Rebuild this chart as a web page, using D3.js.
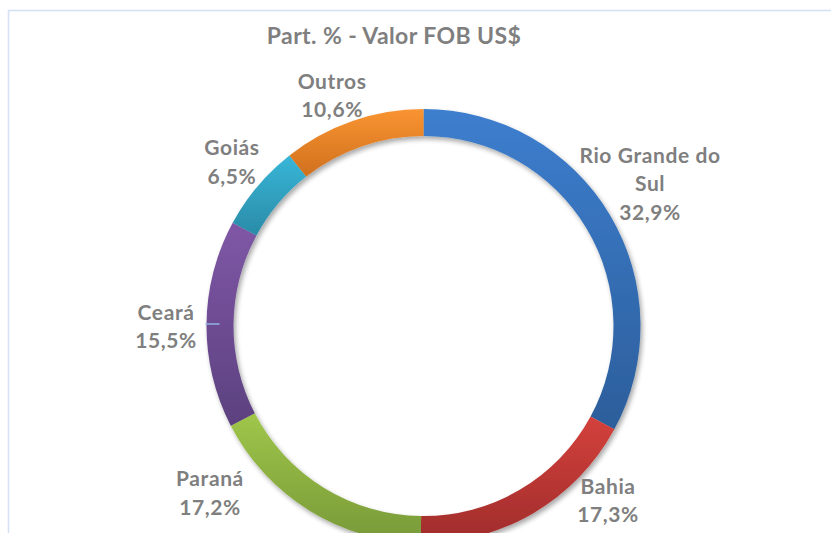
<!DOCTYPE html>
<html>
<head>
<meta charset="utf-8">
<script src="https://cdn.jsdelivr.net/npm/d3@7"></script>
<style>
html,body{margin:0;padding:0;background:#fff;}
svg{display:block;}
</style>
</head>
<body>
<svg id="chart" width="831" height="533"></svg>
<script>
// ---- data ----
const categories = ["Rio Grande do Sul", "Bahia", "Paraná", "Ceará", "Goiás", "Outros"];
const values = [32.9, 17.3, 17.2, 15.5, 6.5, 10.6];
const valueLabels = ["32,9%", "17,3%", "17,2%", "15,5%", "6,5%", "10,6%"];
const labelLines = [["Rio Grande do", "Sul"], ["Bahia"], ["Paraná"], ["Ceará"], ["Goiás"], ["Outros"]];
const title = "Part. % - Valor FOB US$";

// ---- styles / layout ----
const colorsTop = ["#3d7ece", "#d4413c", "#a0c64a", "#7f57a6", "#38b6d8", "#f99431"];
const colorsBottom = ["#2c5e9b", "#9f2c2b", "#789938", "#5c417f", "#2a8ba7", "#d0701e"];
const labelNudge = [[7.5, -11.5], [55.4, -44.9], [-79.6, -49.5], [-2.5, 3.4], [3.4, 0.9], [-8, 11]];
const W = 831, H = 533;
const cx = 423.5, cy = 326, rOuter = 217, rInner = 190, rLabel = 255;
const fontFamily = "Lato, 'Open Sans', sans-serif";
const lineH = 28.5;

const svg = d3.select("#chart");
const defs = svg.append("defs");

// border
svg.append("rect").attr("x", 8.5).attr("y", 10.5).attr("width", W + 20).attr("height", H + 20)
  .attr("fill", "#fff").attr("stroke", "#d6e2f3").attr("stroke-width", 1.6);

// title
svg.append("text").attr("x", 394).attr("y", 44).attr("text-anchor", "middle")
  .attr("font-family", fontFamily).attr("font-weight", 700).attr("font-size", 23)
  .attr("letter-spacing", 0.4)
  .attr("fill", "#7f7f7f").text(title);

// shadow filter
const f = defs.append("filter").attr("id", "shadow").attr("x", "-10%").attr("y", "-10%").attr("width", "120%").attr("height", "120%");
f.append("feGaussianBlur").attr("in", "SourceAlpha").attr("stdDeviation", 2.5).attr("result", "b");
f.append("feOffset").attr("in", "b").attr("dx", 1.5).attr("dy", 2.5).attr("result", "o");
f.append("feComponentTransfer").attr("in", "o").attr("result", "s")
  .append("feFuncA").attr("type", "linear").attr("slope", 0.35);
const fm = f.append("feMerge");
fm.append("feMergeNode").attr("in", "s");
fm.append("feMergeNode").attr("in", "SourceGraphic");

categories.forEach((c, i) => {
  const g = defs.append("linearGradient").attr("id", "grad" + i)
    .attr("x1", 0).attr("y1", 0).attr("x2", 0).attr("y2", 1);
  g.append("stop").attr("offset", "0%").attr("stop-color", colorsTop[i]);
  g.append("stop").attr("offset", "100%").attr("stop-color", colorsBottom[i]);
});

const data = categories.map((c, i) => ({ name: c, value: values[i], i }));
const pie = d3.pie().value(d => d.value).sort(null);
const arcs = pie(data);
const arc = d3.arc().innerRadius(rInner).outerRadius(rOuter);
const labelArc = d3.arc().innerRadius(rLabel).outerRadius(rLabel);

const g = svg.append("g").attr("transform", `translate(${cx},${cy})`);
const ring = g.append("g").attr("filter", "url(#shadow)");
ring.selectAll("path").data(arcs).enter().append("path")
  .attr("d", arc)
  .attr("fill", d => `url(#grad${d.data.i})`);

// small leader line (Ceará)
{
  const d = arcs[3];
  const a = (d.startAngle + d.endAngle) / 2;
  const r1 = 204, r2 = 218;
  g.append("line")
    .attr("x1", r1 * Math.sin(a)).attr("y1", -r1 * Math.cos(a))
    .attr("x2", r2 * Math.sin(a)).attr("y2", -r2 * Math.cos(a))
    .attr("stroke", "#8fb4e3").attr("stroke-width", 1.5);
}

// labels
arcs.forEach(d => {
  const i = d.data.i;
  const [px, py] = labelArc.centroid(d);
  const lines = labelLines[i].concat([valueLabels[i]]);
  const x = px + labelNudge[i][0];
  const yc = py + labelNudge[i][1];
  const y0 = yc - (lines.length - 1) * lineH / 2 + 7;
  const t = g.append("text").attr("text-anchor", "middle")
    .attr("font-family", fontFamily).attr("font-weight", 700).attr("font-size", 21)
    .attr("letter-spacing", 0.6)
    .attr("fill", "#7f7f7f");
  lines.forEach((l, k) => {
    t.append("tspan").attr("x", x).attr("y", y0 + k * lineH).text(l);
  });
});
</script>
</body>
</html>
